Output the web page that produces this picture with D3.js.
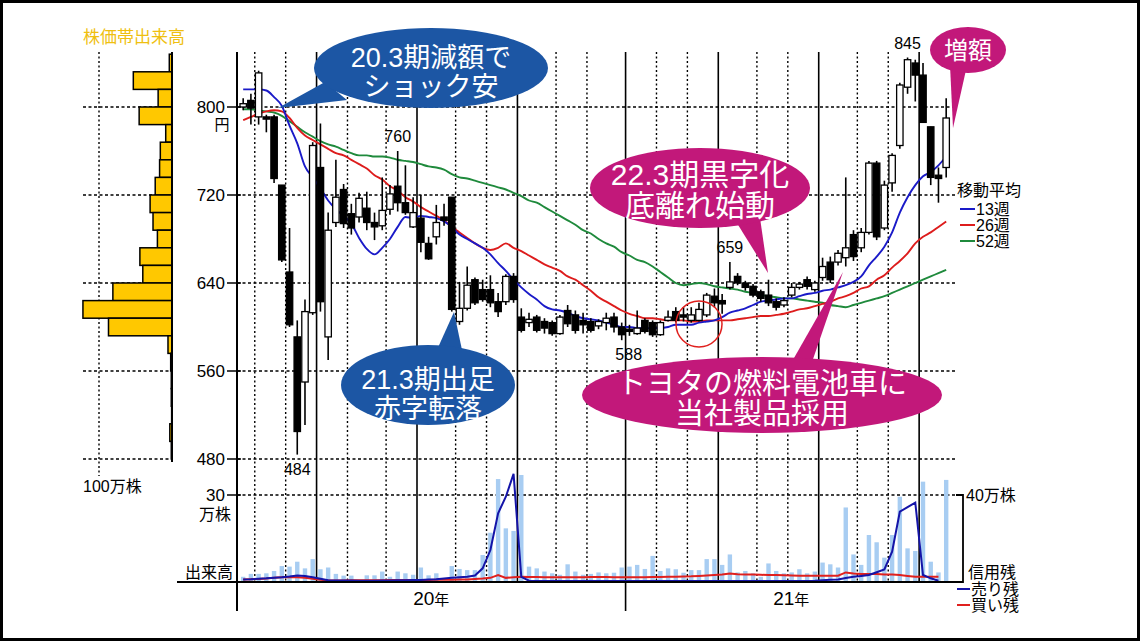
<!DOCTYPE html>
<html><head><meta charset="utf-8">
<script src="https://cdn.jsdelivr.net/npm/d3@7"></script>
<style>body{margin:0;background:#fff}svg{display:block}text{font-family:"Liberation Sans","Noto Sans CJK JP",sans-serif}</style>
</head><body><svg id="c" width="1140" height="641"></svg>
<script>
// ---- data (weekly, Jan 2020 - Oct 2021) ----
const opens  = [800,806,791,791,791,729,650,591,550,613,745,591,695,725,703,700,708,695,692,707,728,713,691,699,676,682,700,718,605,617,643,634,634,623,623,646,609,604,609,605,604,594,615,611,606,605,601,604,609,600,598,594,606,604,593,606,614,611,606,606,611,628,624,636,646,640,637,632,629,623,620,629,636,643,634,645,659,659,663,684,672,686,749,690,731,765,818,840,829,782,738,745];
const highs  = [808,812,833,793,793,729,690,606,625,768,785,704,752,730,712,722,723,704,736,729,760,747,718,720,682,711,712,718,641,655,645,643,647,631,648,649,617,613,611,608,606,611,620,615,613,608,607,613,613,604,602,615,608,606,606,615,618,618,618,622,631,635,630,659,649,642,639,634,643,626,627,640,641,646,642,663,664,670,736,688,690,751,751,733,758,822,845,843,840,782,745,808];
const lows   = [797,784,784,777,731,659,600,484,511,611,614,570,691,690,684,695,688,679,688,702,705,702,690,668,661,675,692,614,602,615,620,623,618,609,620,622,595,600,595,594,592,593,600,594,594,595,598,597,595,588,592,593,594,591,592,605,604,605,604,605,609,618,612,634,638,633,627,623,619,615,618,627,634,634,632,642,640,656,655,660,668,684,679,688,723,762,812,805,786,729,713,736];
const closes = [803,799,831,789,735,661,602,505,614,765,623,688,718,694,690,717,695,691,706,721,713,704,704,677,662,695,697,616,617,638,622,625,622,614,646,625,597,607,597,599,594,609,603,597,602,597,605,608,600,593,596,599,596,593,604,609,606,609,611,616,629,622,621,641,640,636,629,626,622,618,624,636,639,637,640,655,643,667,672,664,686,749,682,729,756,820,843,829,786,736,735,790];
const ma13 = [816,816,816,815,809,801,783,767,746,736,726,715,707,701,694,681,671,666,672,680,691,700,699,701,700,699,696,691,684,680,676,672,666,658,651,643,636,630,625,619,616,615,613,610,608,607,606,604,602,600,600,599,599,599,599,600,602,602,602,604,605,606,609,613,615,617,620,623,624,625,626,626,628,630,631,633,634,636,638,641,646,656,664,673,686,704,718,729,737,741,747,755];
const ma26 = [788,791,794,796,797,796,790,781,774,770,766,762,758,756,752,748,744,738,734,728,724,718,714,709,705,701,697,691,686,681,676,672,670,672,676,672,669,665,661,657,654,651,646,643,638,633,627,623,619,615,612,610,608,608,607,606,606,606,605,605,606,606,606,606,607,608,609,610,610,611,612,614,616,617,619,621,623,626,628,631,635,637,643,647,654,660,667,676,682,686,691,696];
const ma52 = [798,798,797,796,795,792,787,782,777,773,769,766,764,761,758,756,756,755,755,754,752,751,750,748,746,745,743,739,736,735,733,731,729,727,725,722,719,715,713,709,705,701,697,693,688,685,680,676,673,668,665,661,659,655,650,645,640,638,639,640,639,637,636,635,634,632,631,629,628,627,626,626,625,624,623,622,620,619,618,620,622,624,626,628,631,634,637,640,643,646,649,652];
// weekly volume (万株)
const volume = [1.8,2.8,2.8,3.0,3.8,5.5,5.3,7.0,4.7,7.9,4.4,5.0,2.8,2.2,2.2,0.3,2.3,2.3,3.6,1.8,3.6,3.0,2.5,5.0,2.3,3.0,0.3,5.5,4.5,4.1,4.1,9.3,17.0,35.5,18.5,17.6,36.9,5.3,4.7,3.6,3.0,2.5,6.1,3.6,2.5,2.8,3.3,3.0,3.2,5.0,5.3,5.9,4.5,9.0,3.8,4.7,4.4,3.2,4.1,4.1,7.9,7.9,5.9,9.5,3.3,3.8,3.0,1.8,6.4,3.8,3.0,3.3,4.4,3.0,3.6,6.7,6.1,5.0,25.7,9.5,5.9,16.2,13.7,8.4,16.2,29.4,11.6,10.7,34.6,7.0,3.3,35.2];
// margin balances (万株)
const sellBal = [1.2,1.3,1.5,1.7,2.0,2.2,2.5,3.0,2.8,2.2,1.5,0.8,0.7,0.7,0.7,0.6,0.6,0.6,0.7,0.7,0.8,0.8,0.9,0.9,1.1,1.3,1.6,1.9,2.2,2.4,3.0,6.3,14.7,31.6,39.2,49.7,2.4,0.6,0.5,0.5,0.5,0.5,0.5,0.5,0.5,0.5,0.5,0.5,0.5,0.5,0.5,0.5,0.5,0.5,0.5,0.5,0.5,0.5,0.5,0.5,0.5,0.5,0.5,0.5,0.5,0.5,0.5,0.5,0.5,0.5,0.5,0.5,0.5,0.5,0.6,0.8,1.0,1.2,1.8,2.4,2.8,3.2,4.5,5.8,13.9,32.3,34.4,36.5,3.2,1.7,0.6,null];
const buyBal  = [1.2,1.3,1.4,1.6,1.9,2.2,2.2,2.2,2.0,1.5,1.0,0.7,0.7,0.7,0.8,0.8,0.8,0.8,0.8,0.9,0.9,0.9,0.9,0.9,0.9,1.0,1.0,1.0,1.1,1.2,1.4,1.6,1.9,3.2,1.9,2.2,2.4,2.3,2.3,2.2,2.2,2.2,2.2,2.2,2.2,2.3,2.3,2.3,2.2,2.2,2.2,2.2,2.2,2.3,2.3,2.4,2.4,2.5,2.6,2.8,3.0,3.2,3.4,3.9,3.6,3.4,3.4,3.3,3.2,3.2,3.1,3.0,2.9,2.9,2.9,2.9,2.9,2.9,4.4,3.9,3.7,3.7,3.7,3.5,3.4,3.2,2.8,2.4,2.4,2.4,2.4,null];
// price-band volume profile (band low price, 万株)
const bandLow = [832,816,800,784,768,752,736,720,704,688,672,656,640,624,608,592,576,560,544,528,512,496,480];
const bandVol = [3.7,53,19,45,8.6,16,17,23,30,26,20,44,40,81,122,87,5.5,1.8,1,1,0.5,3,1];
const priceTicks = [480,560,640,720,800];
// week-ending trading dates
const weeks = d3.timeFriday.range(new Date(2020,0,24), new Date(2021,9,23))
  .map(d => (d.getFullYear()===2021 && d.getMonth()===0 && d.getDate()===1) ? new Date(2020,11,30) : d);
const peakLabels = [{i:20,v:760,dy:-9,dx:0},{i:7,v:484,dy:20,dx:0},{i:49,v:588,dy:20,dx:7},{i:63,v:659,dy:-9,dx:0},{i:86,v:845,dy:-9,dx:0}];

// ---- drawing ----
const svg = d3.select('#c');
const x  = d3.scaleLinear().domain([-0.8, 92.4]).range([237, 957]);
const y  = d3.scaleLinear().domain([480, 800]).range([459, 107]);
const yv = d3.scaleLinear().domain([0, 30]).range([582, 495]);
const yc = d3.scaleLinear().domain([0, 40]).range([582, 495]);
const xp = d3.scaleLinear().domain([0, 100]).range([172, 99]);
const TOP = 52, X0 = 237, X1 = 957;

svg.append('rect').attr('x',1.5).attr('y',1.5).attr('width',1137).attr('height',638)
  .attr('fill','#fff').attr('stroke','#000').attr('stroke-width',3);

const dash = '3,2.5';
// horizontal grid
const g = svg.append('g');
priceTicks.forEach(p => {
  g.append('line').attr('x1',X0).attr('x2',X1).attr('y1',y(p)).attr('y2',y(p))
    .attr('stroke','#000').attr('stroke-width',1.4).attr('stroke-dasharray',dash);
  g.append('line').attr('x1',83).attr('x2',171).attr('y1',y(p)).attr('y2',y(p))
    .attr('stroke','#000').attr('stroke-width',1.4).attr('stroke-dasharray',dash);
});
g.append('line').attr('x1',X0).attr('x2',X1).attr('y1',yv(30)).attr('y2',yv(30))
  .attr('stroke','#000').attr('stroke-width',1.4).attr('stroke-dasharray',dash);
// profile 100万 line
g.append('line').attr('x1',xp(100)).attr('x2',xp(100)).attr('y1',TOP).attr('y2',476)
  .attr('stroke','#000').attr('stroke-width',1.4).attr('stroke-dasharray','2,2.5');

// month grid
const breaks = [];
for (let k=1;k<weeks.length;k++) if (weeks[k].getMonth()!==weeks[k-1].getMonth()) breaks.push({pos:k-0.5, m:weeks[k].getMonth()});
breaks.forEach(b => {
  const solid = b.m % 3 === 0;
  g.append('line').attr('x1',x(b.pos)).attr('x2',x(b.pos)).attr('y1',TOP).attr('y2', b.m===0 ? 611 : 582)
    .attr('stroke','#000').attr('stroke-width', solid ? 1.6 : 1.4).attr('stroke-dasharray', solid ? null : '2,2.5');
});
const jan = breaks.find(b => b.m===0);
svg.append('text').attr('x',(X0+x(jan.pos))/2).attr('y',605).attr('text-anchor','middle').attr('font-size',19)
  .html('20<tspan font-size="15">年</tspan>');
svg.append('text').attr('x',(x(jan.pos)+X1)/2).attr('y',605).attr('text-anchor','middle').attr('font-size',19)
  .html('21<tspan font-size="15">年</tspan>');

// volume bars
svg.append('g').selectAll('rect').data(volume).join('rect')
  .attr('x',(d,i)=>x(i)-2.2).attr('width',4.4).attr('y',d=>yv(d)).attr('height',d=>582-yv(d)).attr('fill','#a8cdf2');
// margin balance lines
const lc = d3.line().defined(d=>d!=null).x((d,i)=>x(i)).y(d=>yc(d));
svg.append('path').attr('d',lc(buyBal)).attr('fill','none').attr('stroke','#e0201e').attr('stroke-width',2);
svg.append('path').attr('d',lc(sellBal)).attr('fill','none').attr('stroke','#1414a8').attr('stroke-width',2);

// volume profile
svg.append('g').selectAll('rect').data(bandVol).join('rect')
  .attr('x',d=>xp(d)).attr('width',d=>172-xp(d))
  .attr('y',(d,i)=>y(bandLow[i]+16)).attr('height',(d,i)=>y(bandLow[i])-y(bandLow[i]+16))
  .attr('fill','#ffc800').attr('stroke','#000').attr('stroke-width',1.5);
svg.append('line').attr('x1',172).attr('x2',172).attr('y1',TOP).attr('y2',462).attr('stroke','#000').attr('stroke-width',2);
svg.append('text').attr('x',83).attr('y',43).attr('font-size',17).attr('fill','#efbf10').text('株価帯出来高');
svg.append('text').attr('x',83).attr('y',492).attr('font-size',16).text('100万株');

// moving averages
const lm = d3.line().x((d,i)=>x(i)).y(d=>y(d)).curve(d3.curveMonotoneX);
svg.append('path').attr('d',lm(ma52)).attr('fill','none').attr('stroke','#1f8a3c').attr('stroke-width',1.9);
svg.append('path').attr('d',lm(ma26)).attr('fill','none').attr('stroke','#dd1c1c').attr('stroke-width',1.9);
svg.append('path').attr('d',lm(ma13)).attr('fill','none').attr('stroke','#1a1ac8').attr('stroke-width',1.9);

// candles
const cg = svg.append('g');
closes.forEach((c,i) => {
  const o = opens[i];
  cg.append('line').attr('x1',x(i)).attr('x2',x(i)).attr('y1',y(highs[i])).attr('y2',y(lows[i])).attr('stroke','#000').attr('stroke-width',1.6);
  const top = y(Math.max(o,c)), bot = y(Math.min(o,c));
  cg.append('rect').attr('x',x(i)-3.2).attr('width',6.4).attr('y',top).attr('height',Math.max(bot-top,1.2))
    .attr('fill', c>=o ? '#fff' : '#000').attr('stroke','#000').attr('stroke-width',1.3);
});

// axes
svg.append('line').attr('x1',X0).attr('x2',X0).attr('y1',TOP).attr('y2',611).attr('stroke','#000').attr('stroke-width',2);
svg.append('line').attr('x1',177).attr('x2',956).attr('y1',582).attr('y2',582).attr('stroke','#000').attr('stroke-width',2);
priceTicks.forEach(p => {
  svg.append('line').attr('x1',227).attr('x2',241).attr('y1',y(p)).attr('y2',y(p)).attr('stroke','#000').attr('stroke-width',1.5);
  svg.append('text').attr('x',225).attr('y',y(p)+6).attr('text-anchor','end').attr('font-size',17).text(p);
});
svg.append('text').attr('x',222).attr('y',130).attr('text-anchor','middle').attr('font-size',15).text('円');
svg.append('line').attr('x1',227).attr('x2',241).attr('y1',yv(30)).attr('y2',yv(30)).attr('stroke','#000').attr('stroke-width',1.5);
svg.append('text').attr('x',225).attr('y',yv(30)+6).attr('text-anchor','end').attr('font-size',17).text('30');
svg.append('text').attr('x',231).attr('y',520).attr('text-anchor','end').attr('font-size',16).text('万株');
svg.append('text').attr('x',233).attr('y',578).attr('text-anchor','end').attr('font-size',16).text('出来高');

// right: margin scale
svg.append('path').attr('d',`M956,${yc(40)}H963V${yc(0)}H956`).attr('fill','none').attr('stroke','#000').attr('stroke-width',1.8);
svg.append('text').attr('x',966).attr('y',yc(40)+6).attr('font-size',16).text('40万株');
svg.append('text').attr('x',968).attr('y',578).attr('font-size',16).text('信用残');
svg.append('line').attr('x1',957).attr('x2',970).attr('y1',589).attr('y2',589).attr('stroke','#1414a8').attr('stroke-width',2);
svg.append('text').attr('x',971).attr('y',595).attr('font-size',16).text('売り残');
svg.append('line').attr('x1',957).attr('x2',970).attr('y1',605).attr('y2',605).attr('stroke','#e0201e').attr('stroke-width',2);
svg.append('text').attr('x',971).attr('y',611).attr('font-size',16).text('買い残');

// MA legend
svg.append('text').attr('x',957).attr('y',196).attr('font-size',16).text('移動平均');
[['13週','#1a1ac8',209],['26週','#dd1c1c',225],['52週','#1f8a3c',241]].forEach(([t,c,yy]) => {
  svg.append('line').attr('x1',960).attr('x2',975).attr('y1',yy).attr('y2',yy).attr('stroke',c).attr('stroke-width',2);
  svg.append('text').attr('x',976).attr('y',yy+6).attr('font-size',16).text(t);
});

// peak labels
peakLabels.forEach(p => {
  svg.append('text').attr('x',x(p.i)+p.dx).attr('y',y(p.v)+p.dy).attr('text-anchor','middle').attr('font-size',16).text(p.v);
});

// red circle
svg.append('circle').attr('cx',699).attr('cy',324).attr('r',23).attr('fill','none').attr('stroke','#e0201e').attr('stroke-width',1.5);

// callouts
const BLUE = '#1c56a4', PINK = '#c2187a';
function bubble(cx,cy,rx,ry,tail,color,lines,fs,base,lh){
  const b = svg.append('g');
  b.append('path').attr('d','M'+tail.map(p=>p.join(',')).join('L')+'Z').attr('fill',color);
  b.append('ellipse').attr('cx',cx).attr('cy',cy).attr('rx',rx).attr('ry',ry).attr('fill',color);
  lines.forEach((t,k) => b.append('text').attr('x',cx).attr('y',base+k*lh).attr('text-anchor','middle')
    .attr('font-size',fs).attr('fill','#fff').text(t));
}
bubble(431,68,117,40,[[325,82],[347,100],[278,108]],BLUE,['20.3期減額で','ショック安'],27,67,29);
bubble(428,385,87,40,[[436,352],[462,350],[454,312]],BLUE,['21.3期出足','赤字転落'],27,389,29);
bubble(700,188,110,40,[[735,220],[760,218],[768,273]],PINK,['22.3期黒字化','底離れ始動'],30,185,31);
bubble(762,395,180,38,[[790,365],[812,362],[843,272]],PINK,['トヨタの燃料電池車に','当社製品採用'],29,394,30);
bubble(968,50,38,23,[[950,65],[966,70],[953,128]],PINK,['増額'],24,59,0);
</script></body></html>
